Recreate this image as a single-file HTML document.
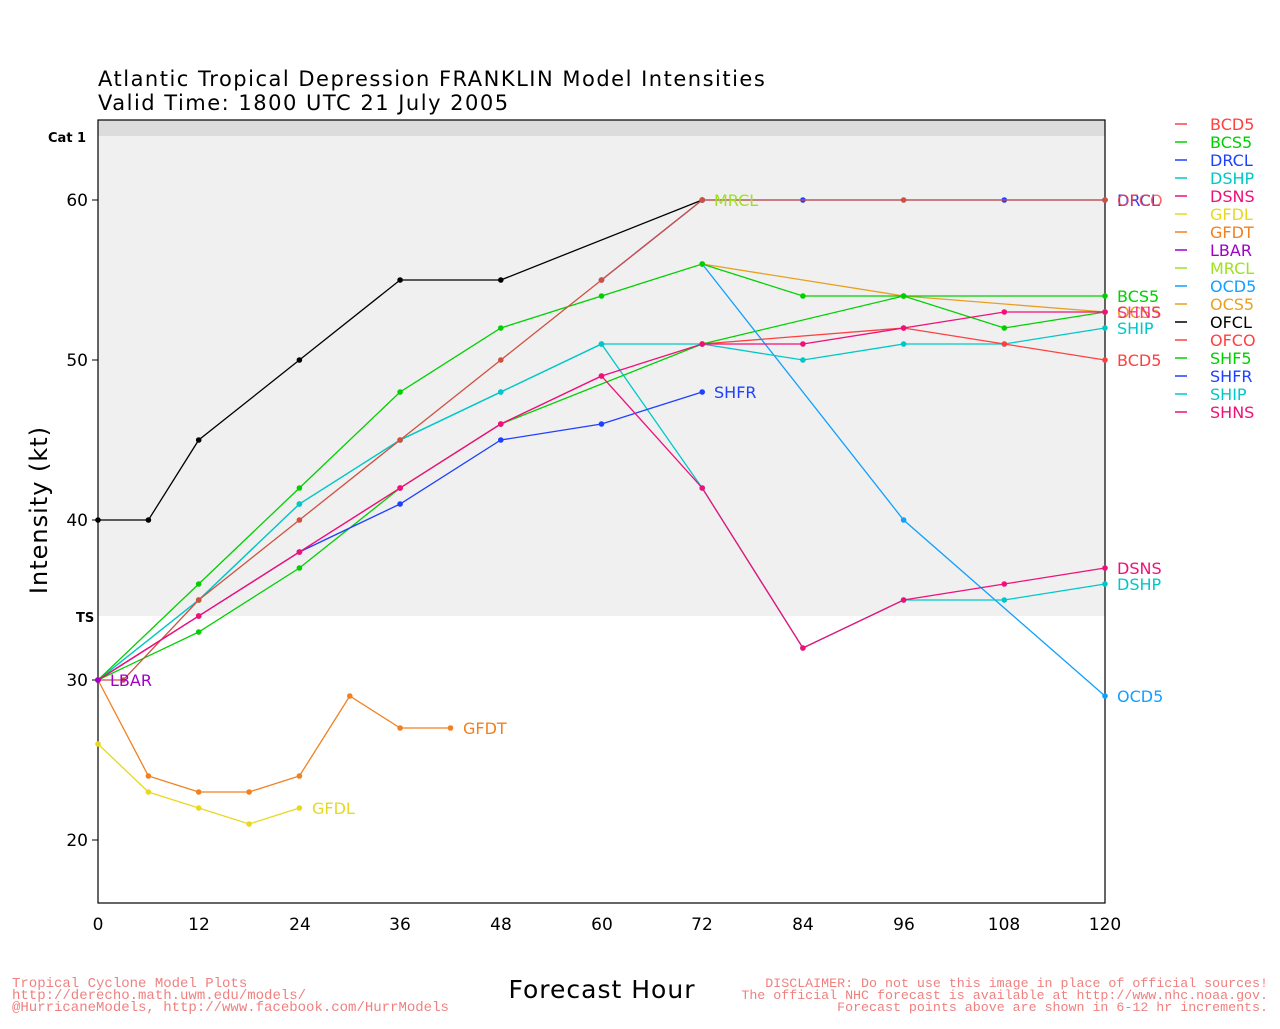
<!DOCTYPE html>
<html><head><meta charset="utf-8"><style>
body{margin:0;background:#fff;}
svg text{font-family:"DejaVu Sans","Liberation Sans",sans-serif;}
svg text.mono{font-family:"Liberation Mono",monospace;}
</style></head><body>
<svg id="s" width="1280" height="1024" xmlns="http://www.w3.org/2000/svg">
<rect width="1280" height="1024" fill="#fff"/>
<rect x="98" y="120" width="1007" height="16" fill="#dcdcdc"/>
<rect x="98" y="136" width="1007" height="480" fill="#f0f0f0"/>
<rect x="98" y="120" width="1007" height="783" fill="none" stroke="#000" stroke-width="1.2"/>
<text x="98" y="86" font-size="21" fill="#000" letter-spacing="1.5">Atlantic Tropical Depression FRANKLIN Model Intensities</text>
<text x="98" y="110" font-size="21" fill="#000" letter-spacing="1.5">Valid Time: 1800 UTC 21 July 2005</text>
<text x="48" y="142" font-size="13" font-weight="bold">Cat 1</text>
<text x="76" y="622" font-size="13" font-weight="bold">TS</text>
<g font-size="17" text-anchor="end" fill="#000">
<text x="88" y="206">60</text><text x="88" y="366">50</text><text x="88" y="526">40</text><text x="88" y="686">30</text><text x="88" y="846">20</text>
</g>
<g stroke="#000"><line x1="92" y1="200" x2="98" y2="200"/><line x1="92" y1="360" x2="98" y2="360"/><line x1="92" y1="520" x2="98" y2="520"/><line x1="92" y1="680" x2="98" y2="680"/><line x1="92" y1="840" x2="98" y2="840"/></g>
<g font-size="17" text-anchor="middle">
<text x="98" y="930">0</text><text x="199" y="930">12</text><text x="300" y="930">24</text><text x="400" y="930">36</text><text x="501" y="930">48</text><text x="602" y="930">60</text><text x="702" y="930">72</text><text x="803" y="930">84</text><text x="904" y="930">96</text><text x="1004" y="930">108</text><text x="1105" y="930">120</text>
</g>
<text transform="translate(47,510) rotate(-90)" font-size="24" text-anchor="middle" letter-spacing="1">Intensity (kt)</text>
<text x="602" y="998" font-size="25" text-anchor="middle" letter-spacing="1">Forecast Hour</text>
<g fill="#f08080">
<text class="mono" font-size="14" x="12" y="987">Tropical Cyclone Model Plots</text>
<text class="mono" font-size="14" x="12" y="999">http://derecho.math.uwm.edu/models/</text>
<text class="mono" font-size="14" x="12" y="1011">@HurricaneModels, http://www.facebook.com/HurrModels</text>
<text class="mono" font-size="13.3" x="1268" y="987" text-anchor="end">DISCLAIMER: Do not use this image in place of official sources!</text>
<text class="mono" font-size="13.3" x="1268" y="999" text-anchor="end">The official NHC forecast is available at http://www.nhc.noaa.gov.</text>
<text class="mono" font-size="13.3" x="1268" y="1011" text-anchor="end">Forecast points above are shown in 6-12 hr increments.</text>
</g>
<g id="series"></g>
<g font-size="16">
<text x="110" y="686" fill="#a000c8">LBAR</text>
<text x="714" y="206" fill="#a0e020">MRCL</text>
<text x="714" y="398" fill="#2040ff">SHFR</text>
<text x="463" y="734" fill="#f08020">GFDT</text>
<text x="312" y="814" fill="#e8d820">GFDL</text>
<text x="1117" y="206" fill="#2040ff">DRCL</text>
<text x="1117" y="206" fill="#ff4040" fill-opacity="0.8">OFCO</text>
<text x="1117" y="302" fill="#00d000">BCS5</text>
<text x="1117" y="318" fill="#e8a020">OCS5</text>
<text x="1117" y="318" fill="#f0107a" fill-opacity="0.8">SHNS</text>
<text x="1117" y="334" fill="#00c8c8">SHIP</text>
<text x="1117" y="366" fill="#ff4040">BCD5</text>
<text x="1117" y="574" fill="#f0107a">DSNS</text>
<text x="1117" y="590" fill="#00c8c8">DSHP</text>
<text x="1117" y="702" fill="#10a0ff">OCD5</text>
</g>
<g font-size="16">
<g stroke-width="1.5">
<line x1="1175" y1="124" x2="1187" y2="124" stroke="#ff4040"/>
<line x1="1175" y1="142" x2="1187" y2="142" stroke="#00d000"/>
<line x1="1175" y1="160" x2="1187" y2="160" stroke="#2040ff"/>
<line x1="1175" y1="178" x2="1187" y2="178" stroke="#00c8c8"/>
<line x1="1175" y1="196" x2="1187" y2="196" stroke="#f0107a"/>
<line x1="1175" y1="214" x2="1187" y2="214" stroke="#e8d820"/>
<line x1="1175" y1="232" x2="1187" y2="232" stroke="#f08020"/>
<line x1="1175" y1="250" x2="1187" y2="250" stroke="#a000c8"/>
<line x1="1175" y1="268" x2="1187" y2="268" stroke="#a0e020"/>
<line x1="1175" y1="286" x2="1187" y2="286" stroke="#10a0ff"/>
<line x1="1175" y1="304" x2="1187" y2="304" stroke="#e8a020"/>
<line x1="1175" y1="322" x2="1187" y2="322" stroke="#000"/>
<line x1="1175" y1="340" x2="1187" y2="340" stroke="#ff4040"/>
<line x1="1175" y1="358" x2="1187" y2="358" stroke="#00d000"/>
<line x1="1175" y1="376" x2="1187" y2="376" stroke="#2040ff"/>
<line x1="1175" y1="394" x2="1187" y2="394" stroke="#00c8c8"/>
<line x1="1175" y1="412" x2="1187" y2="412" stroke="#f0107a"/>
</g>
<text x="1210" y="130" fill="#ff4040">BCD5</text>
<text x="1210" y="148" fill="#00d000">BCS5</text>
<text x="1210" y="166" fill="#2040ff">DRCL</text>
<text x="1210" y="184" fill="#00c8c8">DSHP</text>
<text x="1210" y="202" fill="#f0107a">DSNS</text>
<text x="1210" y="220" fill="#e8d820">GFDL</text>
<text x="1210" y="238" fill="#f08020">GFDT</text>
<text x="1210" y="256" fill="#a000c8">LBAR</text>
<text x="1210" y="274" fill="#a0e020">MRCL</text>
<text x="1210" y="292" fill="#10a0ff">OCD5</text>
<text x="1210" y="310" fill="#e8a020">OCS5</text>
<text x="1210" y="328" fill="#000">OFCL</text>
<text x="1210" y="346" fill="#ff4040">OFCO</text>
<text x="1210" y="364" fill="#00d000">SHF5</text>
<text x="1210" y="382" fill="#2040ff">SHFR</text>
<text x="1210" y="400" fill="#00c8c8">SHIP</text>
<text x="1210" y="418" fill="#f0107a">SHNS</text>
</g>
</svg>
<script>
var S=[
["#e8d820",[[0,26],[6,23],[12,22],[18,21],[24,22]]],
["#f08020",[[0,30],[6,24],[12,23],[18,23],[24,24],[30,29],[36,27],[42,27]]],
["#10a0ff",[[72,56],[96,40],[120,29]]],
["#e8a020",[[72,56],[96,54],[120,53]]],
["#000",[[0,40],[6,40],[12,45],[24,50],[36,55],[48,55],[72,60]]],
["#00c8c8",[[0,30],[12,35],[24,41],[36,45],[48,48],[60,51],[72,42],[84,32],[96,35],[108,35],[120,36]]],
["#00c8c8",[[0,30],[12,35],[24,41],[36,45],[48,48],[60,51],[72,51],[84,50],[96,51],[108,51],[120,52]]],
["#00d000",[[0,30],[12,33],[24,37],[36,42],[48,46],[72,51],[96,54],[108,52],[120,53]]],
["#00d000",[[0,30],[12,36],[24,42],[36,48],[48,52],[60,54],[72,56],[84,54],[96,54],[120,54]]],
["#2040ff",[[0,30],[12,34],[24,38],[36,41],[48,45],[60,46],[72,48]]],
["#2040ff",[[60,55],[72,60],[84,60],[108,60],[120,60]]],
["#ff4040",[[72,51],[96,52],[108,51],[120,50]]],
["#d05040",[[0,30],[3,30],[12,35],[24,40],[36,45],[48,50],[60,55],[72,60],[96,60],[120,60]]],
["#f0107a",[[0,30],[12,34],[24,38],[36,42],[48,46],[60,49],[72,42],[84,32],[96,35],[108,36],[120,37]]],
["#f0107a",[[0,30],[12,34],[24,38],[36,42],[48,46],[60,49],[72,51],[84,51],[96,52],[108,53],[120,53]]],
["#a000c8",[[0,30]]]
];
var g=document.getElementById("series"),h="";
S.forEach(function(s){var p=s[1].map(function(q){return[(98+q[0]*8.392).toFixed(1),(200+(60-q[1])*16).toFixed(1)]});
h+='<polyline fill="none" stroke="'+s[0]+'" stroke-width="1.3" points="'+p.map(function(a){return a.join(",")}).join(" ")+'"/>';
p.forEach(function(a){h+='<circle cx="'+a[0]+'" cy="'+a[1]+'" r="2.8" fill="'+s[0]+'"/>'});});
g.innerHTML=h;
</script>
</body></html>
